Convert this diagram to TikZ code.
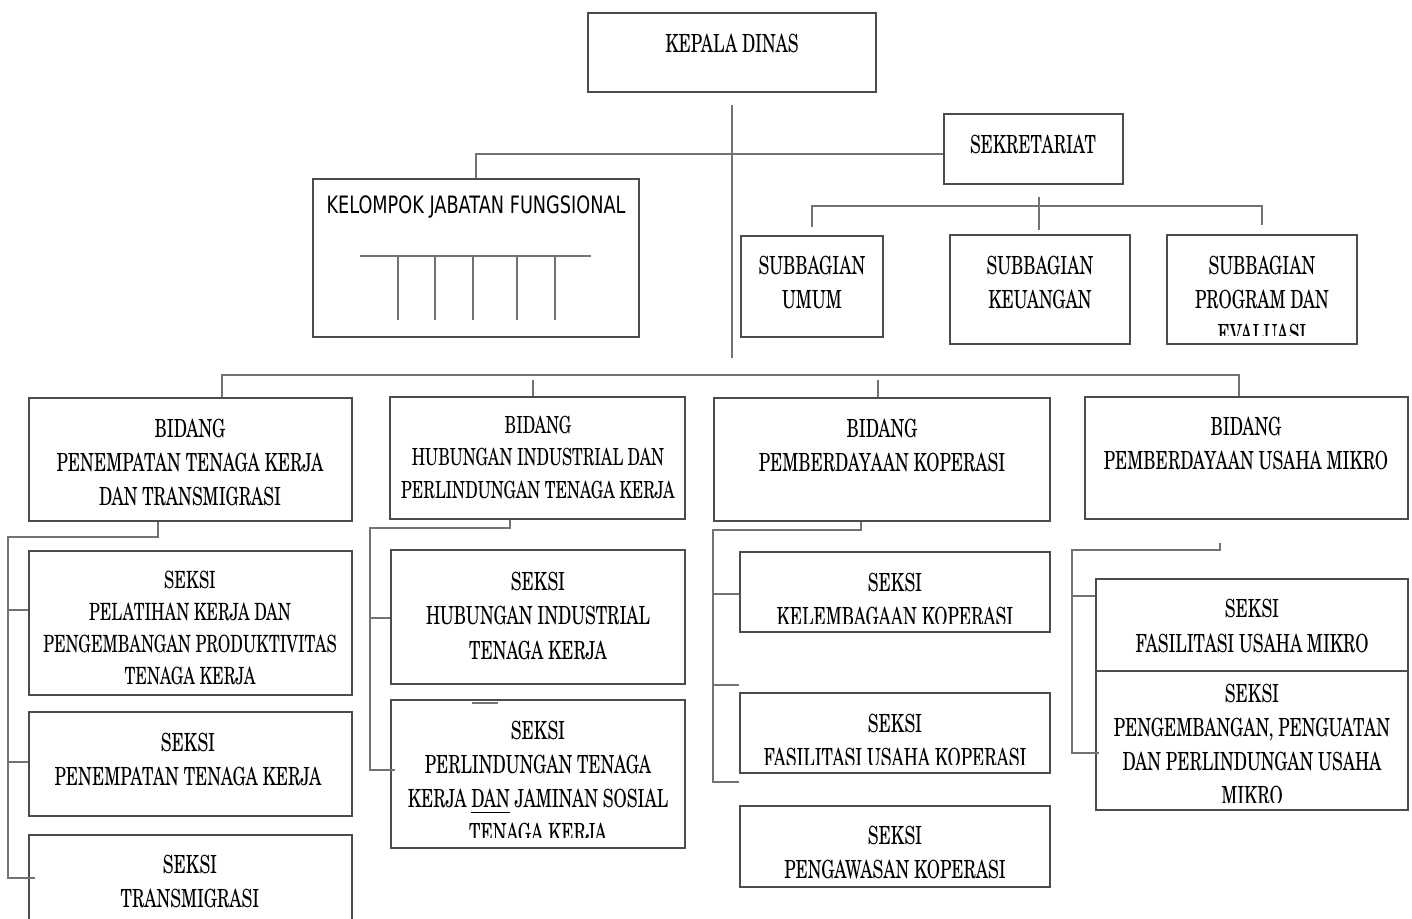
\documentclass[tikz,border=0pt]{standalone}
\usepackage{fontspec}
\setmainfont{texgyreschola-regular.otf}[FakeStretch=0.68]
\newfontfamily\sanscond{DejaVu Sans}[FakeStretch=0.74]
\usetikzlibrary{positioning,fit,calc}

\tikzset{
  unit/.style={draw=black!70, line width=0.55pt, inner sep=0pt},
  wire/.style={draw=black!55, line width=0.45pt},
  lbl/.style={font=\fontsize{7.1}{9.7}\selectfont, align=center, inner sep=0pt, anchor=north, text=black},
}

\begin{document}
\begin{tikzpicture}[x=0.01cm, y=-0.01cm]
\useasboundingbox (0,0) rectangle (1412,919);

% pimpinan dan sekretariat
\node[unit, fit={(588,13) (876,92)}] (kadis) {};
\node[lbl] (kadisT) at (732,33) {KEPALA DINAS};

\node[unit, fit={(313,179) (639,337)}] (kjf) {};
\node[lbl, font=\sanscond\fontsize{6.8}{9.7}\selectfont] (kjfT) at (476,195) {KELOMPOK JABATAN FUNGSIONAL};

\node[unit, fit={(944,114) (1123,184)}] (sekr) {};
\node[lbl] (sekrT) at (1033,134) {SEKRETARIAT};

\node[unit, fit={(741,236) (883,337)}] (umum) {};
\node[lbl] (umumT) at (812,255) {SUBBAGIAN\\UMUM};
\node[unit, fit={(950,235) (1130,344)}] (keu) {};
\node[lbl] (keuT) at (1040,255) {SUBBAGIAN\\KEUANGAN};
\node[unit, fit={(1167,235) (1357,344)}] (prog) {};
\begin{scope}
  \clip (1167,235) rectangle (1357,336);
  \node[lbl] (progT) at (1262,255) {SUBBAGIAN\\PROGRAM DAN\\EVALUASI};
\end{scope}

% bidang
\node[unit, fit={(29,398) (352,521)}] (bptk) {};
\node[lbl] (bptkT) at (190,418) {BIDANG\\PENEMPATAN TENAGA KERJA\\DAN TRANSMIGRASI};
\node[unit, fit={(390,397) (685,519)}] (bhi) {};
\node[lbl, font=\fontsize{6.7}{9.3}\selectfont] (bhiT) at (538,415) {BIDANG\\HUBUNGAN INDUSTRIAL DAN\\PERLINDUNGAN TENAGA KERJA};
\node[unit, fit={(714,398) (1050,521)}] (bpk) {};
\node[lbl] (bpkT) at (882,418) {BIDANG\\PEMBERDAYAAN KOPERASI};
\node[unit, fit={(1085,397) (1408,519)}] (bpum) {};
\node[lbl] (bpumT) at (1246,416) {BIDANG\\PEMBERDAYAAN USAHA MIKRO};

% seksi
\node[unit, fit={(29,551) (352,695)}] (sPel) {};
\node[lbl, font=\fontsize{6.75}{9.1}\selectfont] (sPelT) at (190,570) {SEKSI\\PELATIHAN KERJA DAN\\PENGEMBANGAN PRODUKTIVITAS\\TENAGA KERJA};
\node[unit, fit={(29,712) (352,816)}] (sPen) {};
\node[lbl] (sPenT) at (188,732) {SEKSI\\PENEMPATAN TENAGA KERJA};
\node[unit, fit={(29,835) (352,935)}] (sTra) {};
\node[lbl] (sTraT) at (190,854) {SEKSI\\TRANSMIGRASI};

\node[unit, fit={(391,550) (685,684)}] (sHi) {};
\node[lbl, font=\fontsize{7.1}{9.9}\selectfont] (sHiT) at (538,571) {SEKSI\\HUBUNGAN INDUSTRIAL\\TENAGA KERJA};
\node[unit, fit={(391,700) (685,848)}] (sPl) {};
\begin{scope}
  \clip (391,700) rectangle (685,837);
  \node[lbl] (sPlT) at (538,720) {SEKSI\\PERLINDUNGAN TENAGA\\KERJA \underline{DAN} JAMINAN SOSIAL\\TENAGA KERJA};
\end{scope}

\node[unit, fit={(740,552) (1050,632)}] (sLem) {};
\begin{scope}
  \clip (740,552) rectangle (1050,624);
  \node[lbl] (sLemT) at (895,572) {SEKSI\\KELEMBAGAAN KOPERASI};
\end{scope}
\node[unit, fit={(740,693) (1050,773)}] (sFuk) {};
\begin{scope}
  \clip (740,693) rectangle (1050,765);
  \node[lbl] (sFukT) at (895,713) {SEKSI\\FASILITASI USAHA KOPERASI};
\end{scope}
\node[unit, fit={(740,806) (1050,887)}] (sPgw) {};
\node[lbl] (sPgwT) at (895,825) {SEKSI\\PENGAWASAN KOPERASI};

\node[unit, fit={(1096,579) (1408,671)}] (sFum) {};
\node[lbl, font=\fontsize{7.1}{10.2}\selectfont] (sFumT) at (1252,598) {SEKSI\\FASILITASI USAHA MIKRO};
\node[unit, fit={(1096,671) (1408,810)}] (sPum) {};
\begin{scope}
  \clip (1096,671) rectangle (1408,802);
  \node[lbl] (sPumT) at (1252,683) {SEKSI\\PENGEMBANGAN, PENGUATAN\\DAN PERLINDUNGAN USAHA\\MIKRO};
\end{scope}

% garis komando atas
\coordinate (spine) at (732,358);
\draw[wire] ($(kadis.south)+(0,12)$) -- (spine);
\coordinate (jkjf) at (476,154);
\draw[wire] (kjf.north) -- (jkjf) -- (jkjf -| sekr.west);
\coordinate (jsek) at (1039,207);
\draw[wire] ($(jsek)+(0,-10)$) -- ($(jsek)+(0,23)$);
\draw[wire] ($(umum.north)+(0,-8)$) |- ($(prog.north)+(0,-28)$) -- ($(prog.north)+(0,-9)$);

% jabatan fungsional
\draw[wire] (360,256) -- (591,256);
\foreach \x in {398,435,473,517,555}
  \draw[wire] (\x,256) -- (\x,320);

% garis ke bidang
\coordinate (mL) at (222,375);
\coordinate (mR) at (1239,375);
\coordinate (mHi) at (533,380);
\coordinate (mPk) at (878,380);
\draw[wire] (mL |- bptk.north) -- (mL) -- (mR) -- (mR |- bpum.north);
\draw[wire] (mHi) -- (mHi |- bhi.north);
\draw[wire] (mPk) -- (mPk |- bpk.north);

% seksi bidang penempatan
\coordinate (a1) at (158,537);
\coordinate (a2) at (8,537);
\coordinate (a3) at (8,878);
\draw[wire] (a1 |- bptk.south) -- (a1) -- (a2) -- (a3) -- ++(27,0);
\foreach \y/\n in {610/sPel, 762/sPen}
  \draw[wire] (8,\y) -- (8,\y -| \n.west);

% seksi bidang hubungan industrial
\coordinate (h1) at (510,528);
\coordinate (h2) at (370,528);
\coordinate (h3) at (370,770);
\draw[wire] (h1 |- bhi.south) -- (h1) -- (h2) -- (h3) -- ++(25,0);
\draw[wire] (370,618) -- (370,618 -| sHi.west);
\draw[wire] (472,703) -- (498,703);

% seksi bidang koperasi
\coordinate (p1) at (861,530);
\coordinate (p2) at (713,530);
\coordinate (p3) at (713,782);
\draw[wire] (p1 |- bpk.south) -- (p1) -- (p2) -- (p3) -- (p3 -| sFuk.west);
\draw[wire] (713,594) -- (713,594 -| sLem.west);
\draw[wire] (713,685) -- (713,685 -| sFuk.west);

% seksi bidang usaha mikro
\coordinate (u1) at (1220,550);
\coordinate (u2) at (1072,550);
\coordinate (u3) at (1072,753);
\draw[wire] ($(u1)+(0,-7)$) -- (u1) -- (u2) -- (u3) -- ++(27,0);
\draw[wire] (1072,596) -- (1072,596 -| sFum.west);

\end{tikzpicture}
\end{document}
